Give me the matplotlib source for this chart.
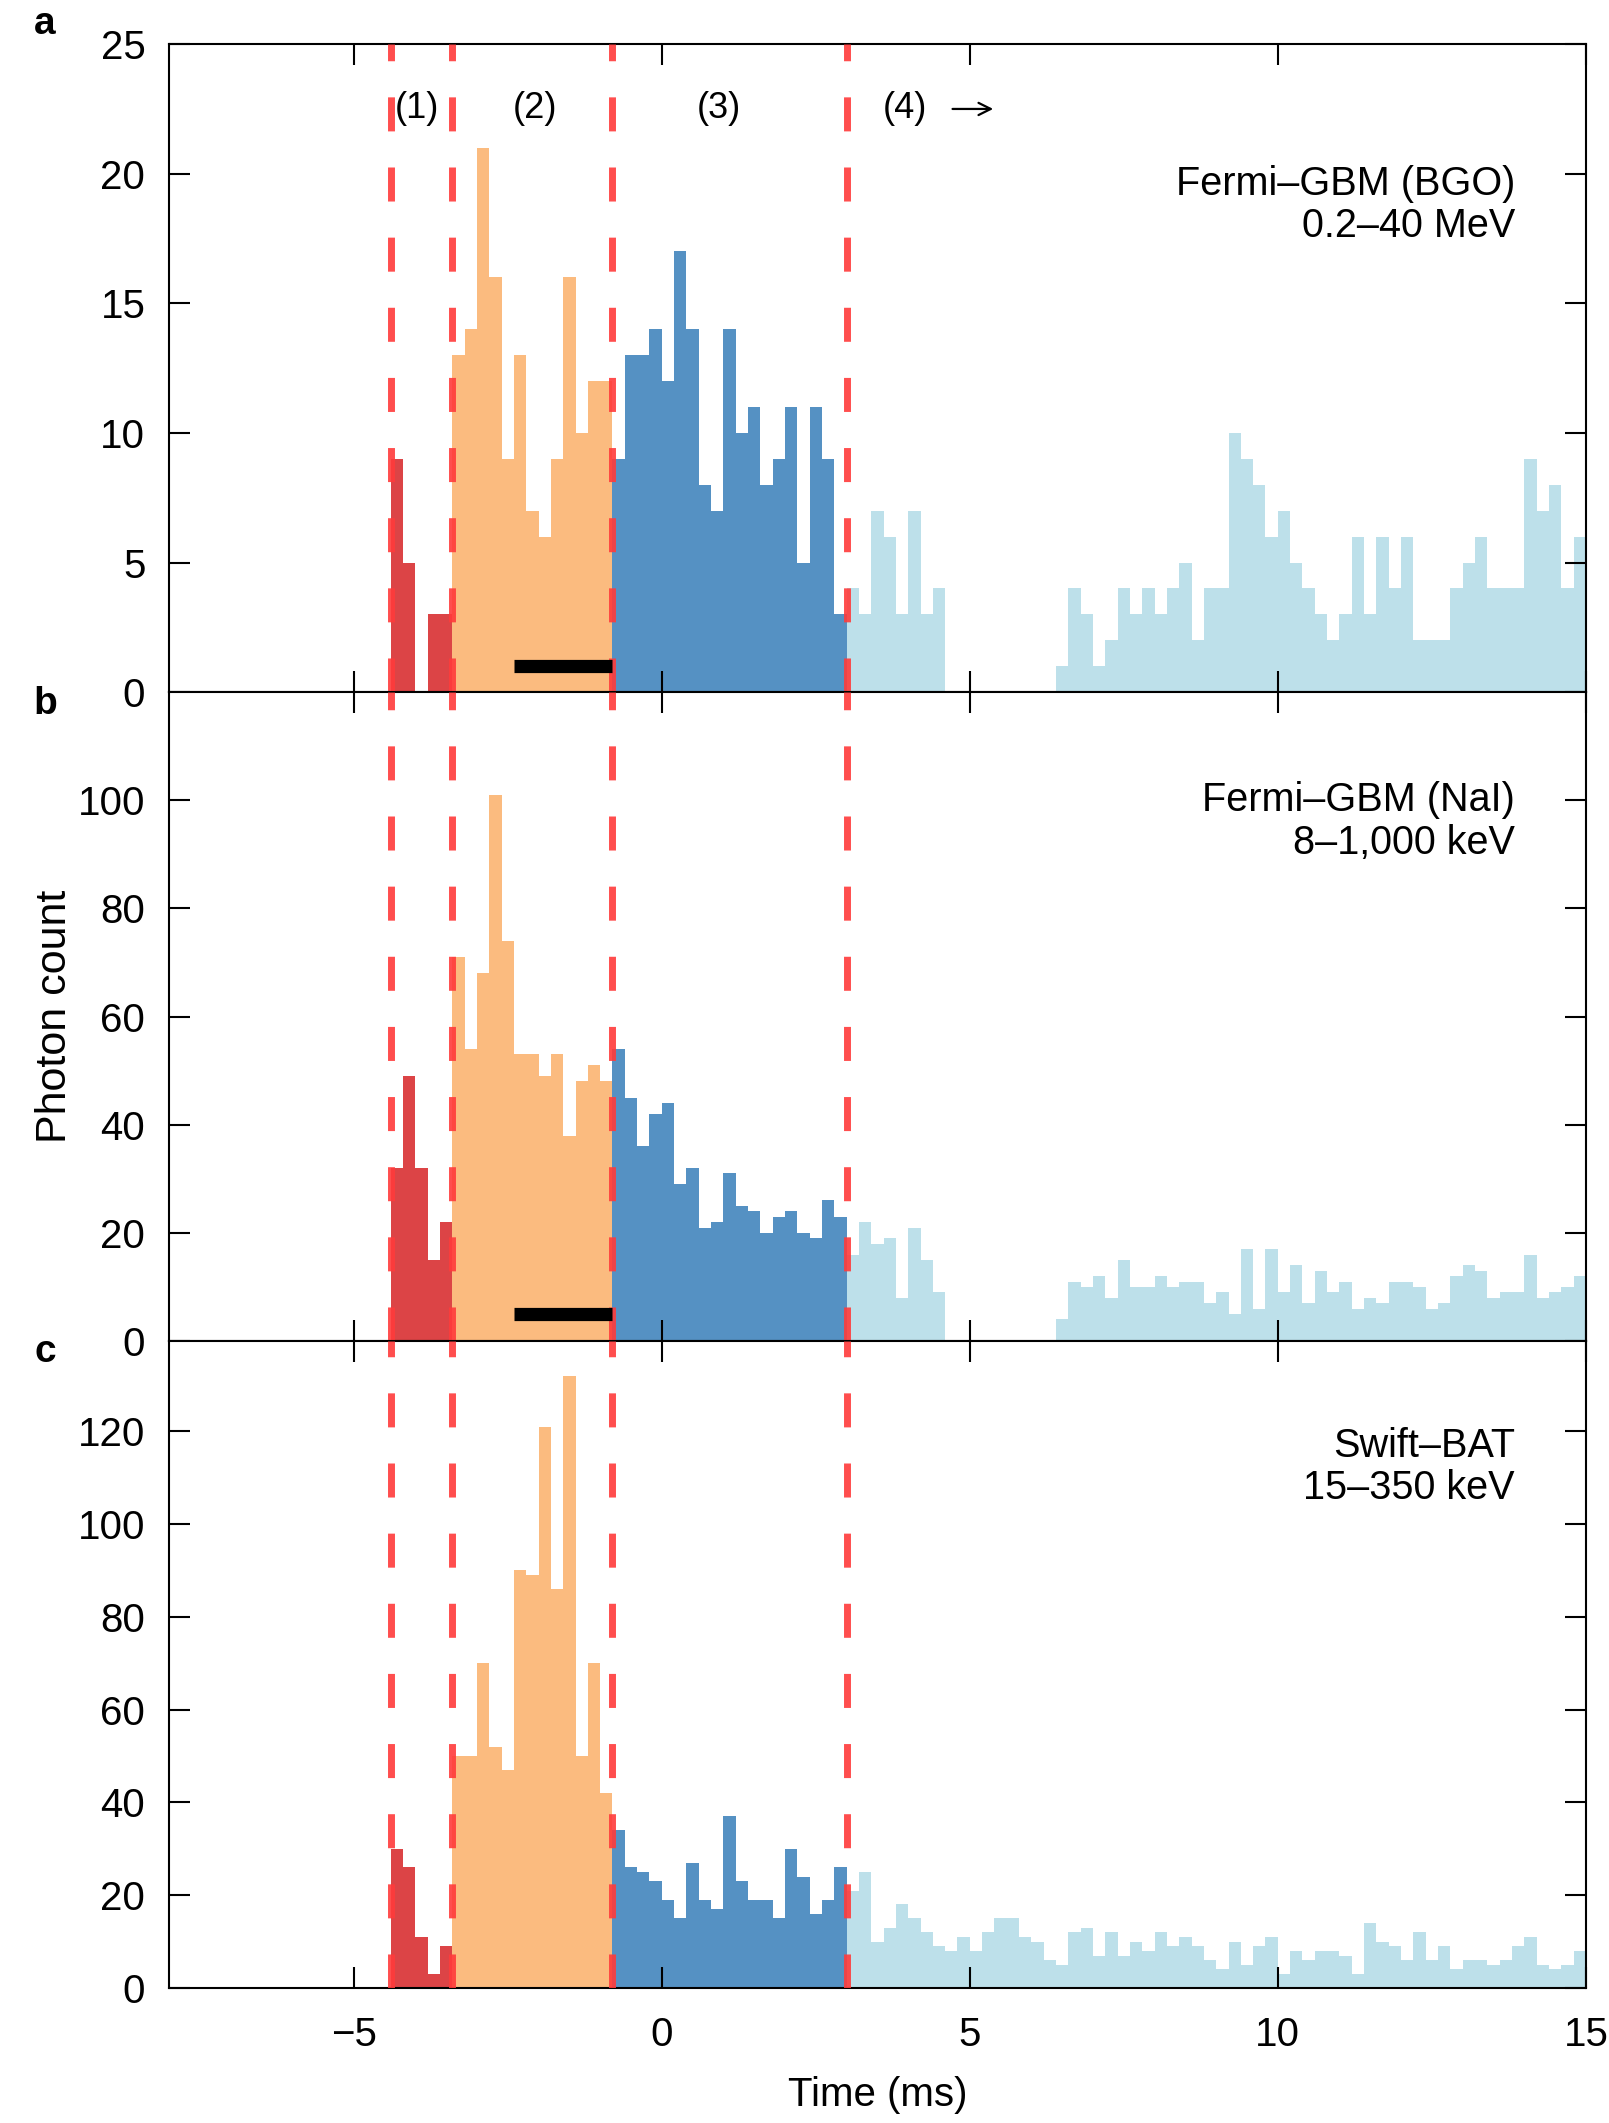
import matplotlib
matplotlib.use('Agg')
import matplotlib.pyplot as plt
import numpy as np

plt.rcParams['font.family'] = ['Liberation Sans', 'DejaVu Sans']

# 0.2 ms bins, the four emission episodes
bin_width = 0.2
region_edges = [-4.4, -3.4, -0.8, 3.0, 15.0]
region_labels = ['(1)', '(2)', '(3)', '(4)']
cols = ['#DC4446', '#FBBB7F', '#5591C3', '#BDE0EA']

# Fermi-GBM (BGO)
bgo_r = [9, 5, 0, 3, 3]
bgo_o = [13, 14, 21, 16, 9, 13, 7, 6, 9, 16, 10, 12, 12]
bgo_b = [9, 13, 13, 14, 12, 17, 14, 8, 7, 14, 10, 11, 8, 9, 11, 5, 11, 9, 3]
bgo_l = [4, 3, 7, 6, 3, 7, 3, 4,
         0, 0, 0, 0, 0, 0, 0, 0, 0,
         1, 4, 3, 1, 2, 4, 3, 4, 3, 4, 5, 2, 4, 4,
         10, 9, 8, 6, 7, 5, 4, 3, 2, 3, 6, 3, 6, 4, 6, 2, 2, 2, 4, 5, 6, 4, 4, 4, 9, 7, 8, 4, 6]

# Fermi-GBM (NaI)
nai_r = [32, 49, 32, 15, 22]
nai_o = [71, 54, 68, 101, 74, 53, 53, 49, 53, 38, 48, 51, 48]
nai_b = [54, 45, 36, 42, 44, 29, 32, 21, 22, 31, 25, 24, 20, 23, 24, 20, 19, 26, 23]
nai_l = [16, 22, 18, 19, 8, 21, 15, 9,
         0, 0, 0, 0, 0, 0, 0, 0, 0,
         4, 11, 10, 12, 8, 15, 10, 10, 12, 10, 11, 11, 7, 9,
         5, 17, 6, 17, 9, 14, 7, 13, 9, 11, 6, 8, 7, 11, 11, 10, 6, 7, 12, 14, 13, 8, 9, 9, 16, 8, 9, 10, 12]

# Swift-BAT
bat_r = [30, 26, 11, 3, 9]
bat_o = [50, 50, 70, 52, 47, 90, 89, 121, 86, 132, 50, 70, 42]
bat_b = [34, 26, 25, 23, 19, 15, 27, 19, 17, 37, 23, 19, 19, 15, 30, 24, 16, 19, 26]
bat_l = [21, 25, 10, 13, 18, 15, 12, 9, 8, 11, 8, 12, 15, 15, 11, 10, 6, 5, 12, 13, 7, 12, 7, 10, 8, 12, 9, 11, 9, 6, 4,
         10, 5, 9, 11, 3, 8, 6, 8, 8, 7, 3, 14, 10, 9, 6, 12, 6, 9, 4, 6, 6, 5, 6, 9, 11, 5, 4, 5, 8]

panels = [
    dict(tag='a', series=[bgo_r, bgo_o, bgo_b, bgo_l], ylim=25, yticks=[0, 5, 10, 15, 20, 25],
         label='Fermi–GBM (BGO)\n0.2–40 MeV', label_y=18.8, bar_y=1.0),
    dict(tag='b', series=[nai_r, nai_o, nai_b, nai_l], ylim=120, yticks=[0, 20, 40, 60, 80, 100],
         label='Fermi–GBM (NaI)\n8–1,000 keV', label_y=96.1, bar_y=5.0),
    dict(tag='c', series=[bat_r, bat_o, bat_b, bat_l], ylim=139.5, yticks=[0, 20, 40, 60, 80, 100, 120],
         label='Swift–BAT\n15–350 keV', label_y=112.3, bar_y=None),
]
black_bar = [-2.4, -0.8]

fig = plt.figure(figsize=(16.09, 21.23), dpi=100)
left, width = 0.105, 0.8806
bottoms = [0.6740, 0.3683, 0.0636]
heights = [0.3052, 0.3057, 0.3048]
tag_y = [0.9887, 0.6684, 0.3632]

axes = []
for i, p in enumerate(panels):
    ax = fig.add_axes([left, bottoms[i], width, heights[i]])
    axes.append(ax)
    for j, vals in enumerate(p['series']):
        start = region_edges[j]
        edges = start + bin_width * np.arange(len(vals) + 1)
        ax.stairs(vals, edges, fill=True, color=cols[j], lw=0, zorder=1)
    for xe in region_edges[:4]:
        ax.axvline(xe, color='#FF3B3B', lw=5, dashes=(4.9, 5.2), alpha=0.9, zorder=3)
    if p['bar_y'] is not None:
        ax.plot(black_bar, [p['bar_y'], p['bar_y']], color='black', lw=9.5,
                solid_capstyle='butt', zorder=4)
    ax.text(13.85, p['label_y'], p['label'], ha='right', va='center', fontsize=28.5,
            linespacing=1.15)
    ax.set_xlim(-8, 15)
    ax.set_ylim(0, p['ylim'])
    ax.set_yticks(p['yticks'])
    ax.set_xticks([-5, 0, 5, 10, 15])
    ax.tick_params(direction='in', top=True, right=True, length=15, width=1.5,
                   labelsize=29)
    ax.tick_params(axis='y', pad=17)
    ax.tick_params(axis='x', pad=20)
    for s in ax.spines.values():
        s.set_linewidth(1.5)
    if i < 2:
        ax.tick_params(labelbottom=False)
    fig.text(0.028, tag_y[i], p['tag'], fontsize=28, fontweight='bold',
             ha='center', va='center')

# episode labels on top panel
centres = [-3.97, -2.06, 0.93, 3.95]
for c, lab in zip(centres, region_labels):
    axes[0].text(c, 22.5, lab, ha='center', va='center', fontsize=26)
axes[0].annotate('', xy=(5.38, 22.5), xytext=(4.72, 22.5),
                 arrowprops=dict(arrowstyle='->', lw=1.6, color='black',
                                 mutation_scale=22, shrinkA=0, shrinkB=0))

axes[2].set_xlabel('Time (ms)', fontsize=29, labelpad=16)
fig.text(0.034, 0.5215, 'Photon count', rotation=90, fontsize=31, ha='center', va='center')

fig.savefig('out.png', dpi=100)
